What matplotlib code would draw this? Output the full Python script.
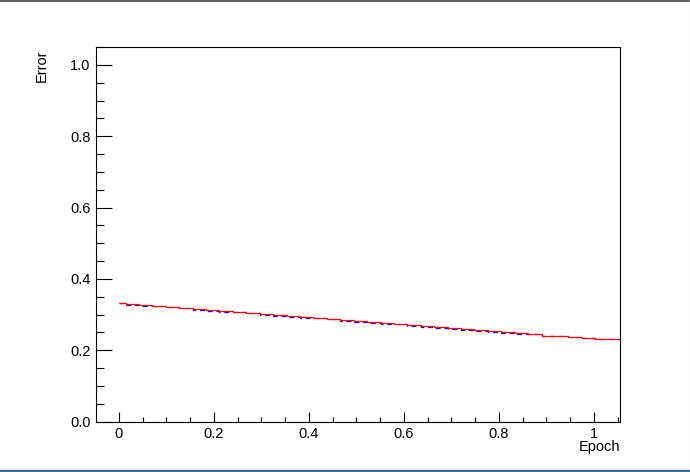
import matplotlib.pyplot as plt
import numpy as np
from matplotlib.lines import Line2D
from matplotlib.ticker import MultipleLocator, FixedFormatter, FixedLocator

plt.rcParams["font.family"] = ["Liberation Sans", "DejaVu Sans"]

# bin centres (epoch) and error per bin
epoch = [i * 0.02825 for i in range(37)]
error_red = [
    0.332, 0.329, 0.326, 0.324, 0.321, 0.318, 0.315, 0.312, 0.309, 0.307,
    0.304, 0.301, 0.298, 0.295, 0.292, 0.290, 0.287, 0.284, 0.281, 0.278,
    0.275, 0.273, 0.270, 0.267, 0.264, 0.261, 0.258, 0.256, 0.253, 0.250,
    0.247, 0.244, 0.241, 0.239, 0.236, 0.233, 0.230,
]
error_blue = [
    0.331, 0.328, 0.325, 0.323, 0.320, 0.317, 0.314, 0.311, 0.308, 0.306,
    0.303, 0.300, 0.297, 0.294, 0.291, 0.289, 0.286, 0.283, 0.280, 0.277,
    0.274, 0.272, 0.269, 0.266, 0.263, 0.260, 0.257, 0.255, 0.252, 0.249,
    0.246, 0.244, 0.241, 0.239, 0.236, 0.233, 0.230,
]
x_ticks = [0, 0.2, 0.4, 0.6, 0.8, 1.0]
x_ticklabels = ["0", "0.2", "0.4", "0.6", "0.8", "1"]
y_ticks = [0.0, 0.2, 0.4, 0.6, 0.8, 1.0]
y_ticklabels = ["0.0", "0.2", "0.4", "0.6", "0.8", "1.0"]

xmin, xmax = -0.048, 1.055
ymin, ymax = 0.0, 1.05

fig = plt.figure(figsize=(6.9, 4.72), dpi=100)
ax = fig.add_axes([96 / 690, 1 - 421.5 / 472, (620 - 96) / 690, (421.5 - 47) / 472])

centres = np.array(epoch)
edges = np.concatenate([[centres[0]], (centres[:-1] + centres[1:]) / 2, [xmax]])

ax.stairs(error_blue, edges, color="blue", linewidth=0.9, linestyle=(0, (4, 3)), baseline=None)
ax.stairs(error_red, edges, color="red", linewidth=0.9, baseline=None)

ax.set_xlim(xmin, xmax)
ax.set_ylim(ymin, ymax)

ax.xaxis.set_major_locator(FixedLocator(x_ticks))
ax.xaxis.set_major_formatter(FixedFormatter(x_ticklabels))
ax.yaxis.set_major_locator(FixedLocator(y_ticks))
ax.yaxis.set_major_formatter(FixedFormatter(y_ticklabels))
ax.xaxis.set_minor_locator(MultipleLocator(0.05))
ax.yaxis.set_minor_locator(MultipleLocator(0.05))

ax.tick_params(axis="x", which="major", direction="in", length=7.5, width=0.8, pad=4, labelsize=10.5)
ax.tick_params(axis="x", which="minor", direction="in", length=3.8, width=0.8)
ax.tick_params(axis="y", which="major", direction="in", length=11.5, width=0.8, pad=4, labelsize=10.5)
ax.tick_params(axis="y", which="minor", direction="in", length=5.8, width=0.8)
ax.tick_params(top=False, right=False, which="both")
for s in ax.spines.values():
    s.set_linewidth(0.8)

fig.text(42 / 690, 1 - 49 / 472, "Error", rotation=90, ha="center", va="top", fontsize=10.5)
fig.text(620 / 690, 1 - 447 / 472, "Epoch", ha="right", va="center", fontsize=10.5)

# window frame edges of the screenshot
fig.add_artist(Line2D([0, 1], [1 - 0.5 / 472, 1 - 0.5 / 472], color="#444444", linewidth=1.2))
fig.add_artist(Line2D([689.5 / 690, 689.5 / 690], [0, 1], color="#cccccc", linewidth=0.8))
fig.add_artist(Line2D([0, 1], [1.5 / 472, 1.5 / 472], color="#2f6b9a", linewidth=1.4))
fig.add_artist(Line2D([0, 1], [3 / 472, 3 / 472], color="#dddddd", linewidth=0.7))

fig.savefig("out.png", dpi=100)
